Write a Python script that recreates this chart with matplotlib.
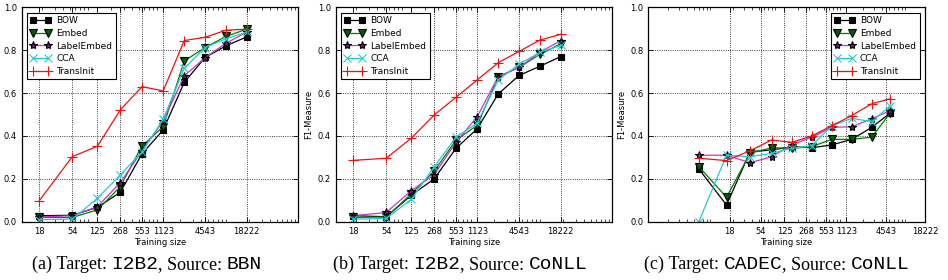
import matplotlib
matplotlib.use('Agg')
import matplotlib.pyplot as plt
from matplotlib.transforms import IdentityTransform
from matplotlib.ticker import FixedLocator, FixedFormatter, LogLocator, NullFormatter

# ---------------- data ----------------
sizes_i2b2 = [18, 54, 125, 268, 553, 1123, 2270, 4543, 9100, 18222]
sizes_cadec = [6, 16, 37, 79, 162, 328, 667, 1355, 2756, 5270]
tick_values = [18, 54, 125, 268, 553, 1123, 4543, 18222]
tick_labels = ['18', '54', '125', '268', '553', '1123', '4543', '18222']
series_names = ['BOW', 'Embed', 'LabelEmbed', 'CCA', 'TransInit']

# (a) Target I2B2, Source BBN
a_bow = [0.028, 0.030, 0.067, 0.137, 0.316, 0.428, 0.650, 0.766, 0.820, 0.862]
a_embed = [0.020, 0.020, 0.055, 0.163, 0.353, 0.443, 0.750, 0.812, 0.864, 0.898]
a_labelembed = [0.022, 0.028, 0.070, 0.182, 0.330, 0.470, 0.680, 0.765, 0.832, 0.884]
a_cca = [0.010, 0.012, 0.109, 0.218, 0.325, 0.478, 0.716, 0.812, 0.853, 0.884]
a_transinit = [0.098, 0.303, 0.352, 0.521, 0.630, 0.610, 0.845, 0.860, 0.893, 0.898]

# (b) Target I2B2, Source CoNLL
b_bow = [0.028, 0.023, 0.124, 0.200, 0.342, 0.433, 0.596, 0.682, 0.725, 0.770]
b_embed = [0.020, 0.022, 0.130, 0.236, 0.380, 0.450, 0.675, 0.720, 0.780, 0.830]
b_labelembed = [0.028, 0.043, 0.145, 0.220, 0.370, 0.490, 0.677, 0.720, 0.790, 0.845]
b_cca = [0.012, 0.015, 0.105, 0.256, 0.394, 0.460, 0.661, 0.735, 0.790, 0.822]
b_transinit = [0.286, 0.296, 0.390, 0.498, 0.580, 0.661, 0.742, 0.794, 0.847, 0.874]

# (c) Target CADEC, Source CoNLL
c_bow = [0.246, 0.078, 0.327, 0.334, 0.350, 0.345, 0.358, 0.384, 0.440, 0.506]
c_embed = [0.257, 0.114, 0.319, 0.345, 0.342, 0.350, 0.384, 0.384, 0.394, 0.506]
c_labelembed = [0.310, 0.310, 0.275, 0.303, 0.358, 0.394, 0.440, 0.443, 0.480, 0.518]
c_cca = [0.000, 0.310, 0.303, 0.319, 0.342, 0.355, 0.447, 0.482, 0.467, 0.540]
c_transinit = [0.296, 0.285, 0.331, 0.381, 0.370, 0.400, 0.447, 0.495, 0.550, 0.573]

panels = [
    dict(x=sizes_i2b2, ys=[a_bow, a_embed, a_labelembed, a_cca, a_transinit],
         xlim=(10, 1e5), loc='upper left',
         caption=[('(a) Target: ', 'serif'), ('I2B2', 'mono'), (', Source: ', 'serif'), ('BBN', 'mono')]),
    dict(x=sizes_i2b2, ys=[b_bow, b_embed, b_labelembed, b_cca, b_transinit],
         xlim=(10, 1e5), loc='upper left',
         caption=[('(b) Target: ', 'serif'), ('I2B2', 'mono'), (', Source: ', 'serif'), ('CoNLL', 'mono')]),
    dict(x=sizes_cadec, ys=[c_bow, c_embed, c_labelembed, c_cca, c_transinit],
         xlim=(1, 18222), loc='upper right',
         caption=[('(c) Target: ', 'serif'), ('CADEC', 'mono'), (', Source: ', 'serif'), ('CoNLL', 'mono')]),
]

# ---------------- style ----------------
styles = [
    dict(color='k', marker='s', markerfacecolor='k', markeredgecolor='k', markersize=5),
    dict(color='#008000', marker='v', markerfacecolor='#006000', markeredgecolor='k', markersize=5.5),
    dict(color='#cc33cc', marker='*', markerfacecolor='#602060', markeredgecolor='k', markersize=6),
    dict(color='#22cccc', marker='x', markerfacecolor='none', markeredgecolor='#22cccc', markersize=5.5),
    dict(color='#ee1111', marker='+', markerfacecolor='none', markeredgecolor='#ee1111', markersize=6.5),
]

W, H, DPI = 948, 280, 100
fig = plt.figure(figsize=(W / DPI, H / DPI), dpi=DPI)

axes_px = [(21.7, 297.7), (335.7, 611.7), (648.3, 925.0)]
ax_top, ax_bot = 7.3, 221.7
caption_centers = [146.7, 460.0, 776.7]
caption_y = 264.5

plt.rcParams['font.family'] = ['DejaVu Sans']

for p, (l, r), cx in zip(panels, axes_px, caption_centers):
    ax = fig.add_axes([l / W, 1 - ax_bot / H, (r - l) / W, (ax_bot - ax_top) / H])
    for name, y, st in zip(series_names, p['ys'], styles):
        ax.plot(p['x'], y, label=name, linewidth=0.9, markeredgewidth=0.8, **st)
    ax.set_xscale('log')
    ax.set_xlim(*p['xlim'])
    ax.set_ylim(0, 1.0)
    ax.xaxis.set_major_locator(FixedLocator(tick_values))
    ax.xaxis.set_major_formatter(FixedFormatter(tick_labels))
    ax.xaxis.set_minor_locator(LogLocator(base=10, subs=range(2, 10)))
    ax.xaxis.set_minor_formatter(NullFormatter())
    ax.set_yticks([0.0, 0.2, 0.4, 0.6, 0.8, 1.0])
    ax.set_yticklabels(['0.0', '0.2', '0.4', '0.6', '0.8', '1.0'])
    ax.tick_params(which='both', direction='in', top=True, right=True, labelsize=6, pad=3.5)
    ax.tick_params(which='major', length=3.5, width=0.6)
    ax.tick_params(which='minor', length=2, width=0.5)
    ax.grid(True, which='major', color='k', linestyle=':', linewidth=0.6)
    for s in ax.spines.values():
        s.set_linewidth(0.9)
    ax.set_xlabel('Training size', fontsize=6, labelpad=2)
    ax.set_ylabel('F1-Measure', fontsize=6, labelpad=3)
    leg = ax.legend(loc=p['loc'], fontsize=6.5, numpoints=2, fancybox=False,
                    framealpha=1, edgecolor='k', borderaxespad=0.6,
                    handlelength=2.2, labelspacing=0.4, borderpad=0.4, handletextpad=0.6)
    leg.get_frame().set_linewidth(0.8)

    # caption with mixed fonts
    renderer = fig.canvas.get_renderer()
    fams = {'serif': ('Liberation Serif', 13.0), 'mono': ('Liberation Mono', 14.0)}
    widths = []
    for txt, fam in p['caption']:
        f, sz = fams[fam]
        t = fig.text(0, 0, txt.replace(' ', '\u00a0'), fontsize=sz, family=f,
                     transform=IdentityTransform())
        widths.append(t.get_window_extent(renderer).width)
        t.remove()
    total = sum(widths)
    x0 = cx - total / 2
    for (txt, fam), w in zip(p['caption'], widths):
        f, sz = fams[fam]
        fig.text(x0, H - caption_y, txt.replace(' ', '\u00a0'), fontsize=sz, family=f,
                 transform=IdentityTransform(), va='baseline' if False else 'center', ha='left')
        x0 += w

fig.savefig('out.png', dpi=DPI)
